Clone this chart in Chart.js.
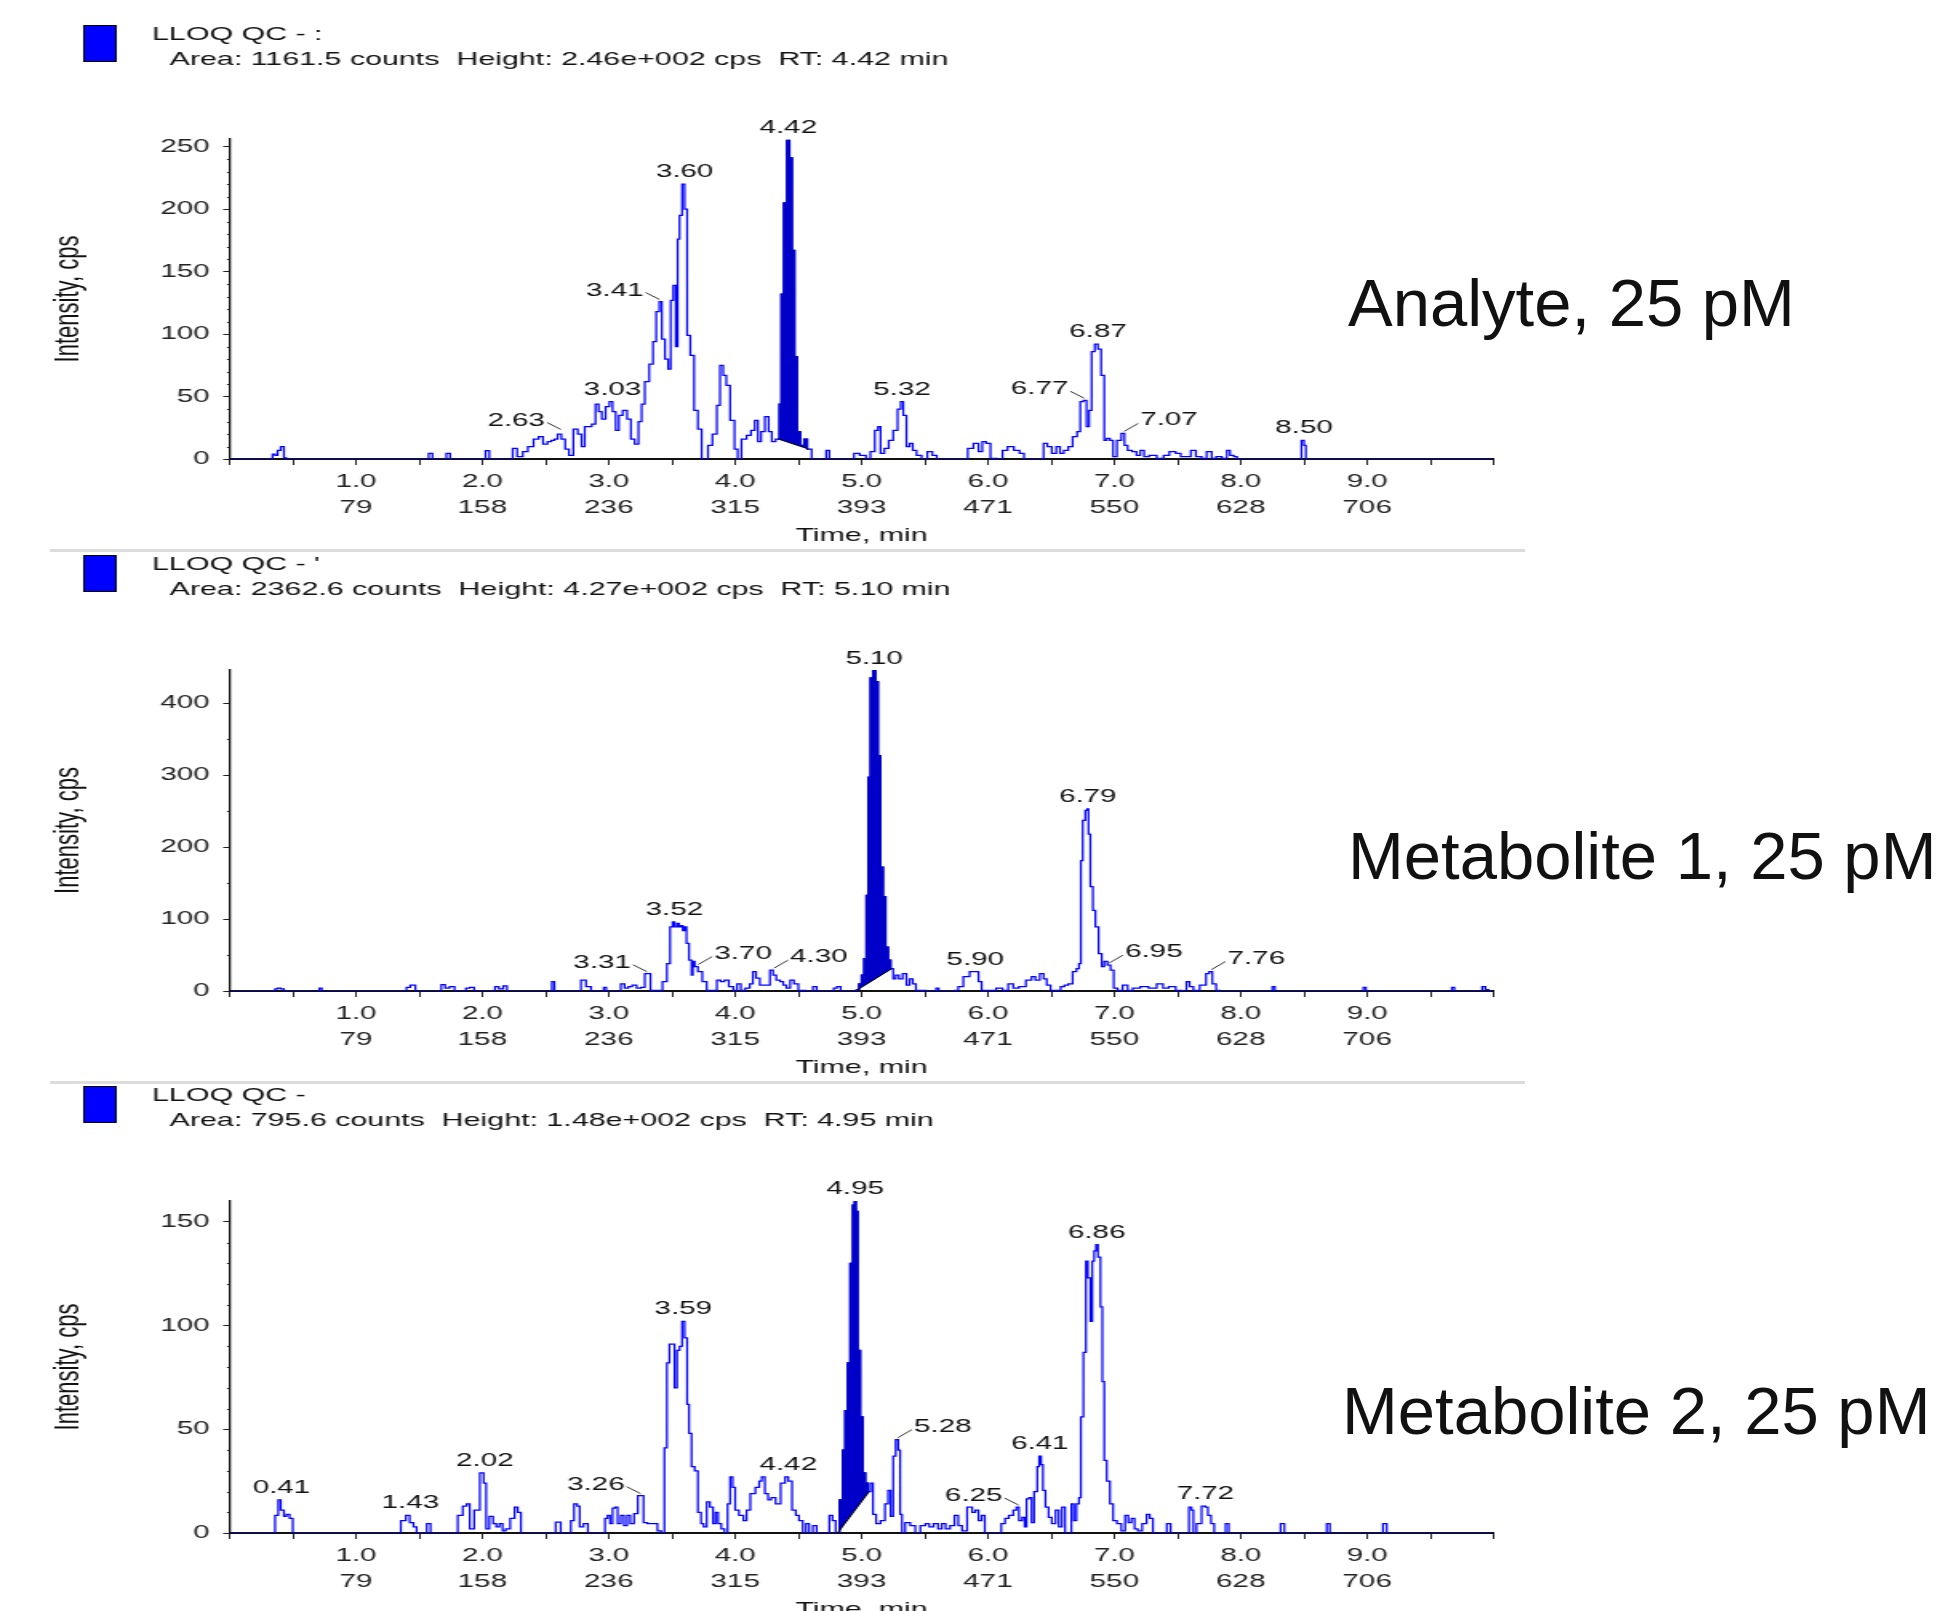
<!DOCTYPE html>
<html>
<head>
<meta charset="utf-8">
<script src="https://cdn.jsdelivr.net/npm/chart.js@4.4.1/dist/chart.umd.min.js"></script>
<style>
  html, body { margin: 0; padding: 0; background: #fff; width: 1952px; height: 1611px; overflow: hidden; }
  #page { position: relative; width: 1952px; height: 1611px; }
  canvas { position: absolute; left: 0; }
  .sep { position: absolute; left: 50px; width: 1475px; height: 3px; background: #dcdcdc; z-index: 2; }
  .name { position: absolute; font-family: "Liberation Sans", Arial, sans-serif; font-size: 67px; line-height: 67px; color: #111; white-space: nowrap; }
</style>
</head>
<body>
<div id="page">
  <div class="sep" style="top:549px"></div>
  <div class="sep" style="top:1081px"></div>
  <div class="name" style="left:1348px;top:269px">Analyte, 25 pM</div>
  <div class="name" style="left:1348px;top:822px">Metabolite 1, 25 pM</div>
  <div class="name" style="left:1342px;top:1377px">Metabolite 2, 25 pM</div>
</div>
<script>
// x axis: second label row (scan number under each minute)
const scanLabels = ['79', '158', '236', '315', '393', '471', '550', '628', '706'];

// header lines of the three XICs
const headTitles = ['LLOQ QC - :', "LLOQ QC - '", 'LLOQ QC -'];
const headArea = [1161.5, 2362.6, 795.6];
const headHeight = ['2.46e+002', '4.27e+002', '1.48e+002'];
const headRT = [4.42, 5.10, 4.95];

// analyte trace [time min, intensity cps]
const analyteTrace = [
  [0,0],[0.33,0],[0.35,4],[0.37,3],[0.39,7],[0.42,10],[0.44,1],[0.46,0],
  [1.56,0],[1.59,4.5],[1.62,0],[1.70,0],[1.73,4.5],[1.76,0],[2.01,0],[2.04,6.7],[2.07,0],
  [2.23,0],[2.25,8.5],[2.30,2],[2.34,6],[2.38,10],[2.43,16],[2.46,18],[2.50,12],[2.53,14],
  [2.56,15],[2.58,16],[2.61,20],[2.64,16],[2.67,8],[2.70,3],[2.74,24],[2.77,20],[2.80,10],
  [2.82,26],[2.85,26],[2.88,28],[2.91,44],[2.93,38],[2.96,32],[2.99,42],[3.02,46],[3.04,38],
  [3.07,23],[3.09,35],[3.13,39],[3.16,32],[3.19,16],[3.22,12],[3.25,30],[3.27,44],[3.30,62],
  [3.34,76],[3.36,94],[3.39,118],[3.41,126],[3.43,96],[3.46,80],[3.48,72],[3.50,127],[3.52,139],
  [3.54,90],[3.55,176],[3.57,195],[3.59,220],[3.61,200],[3.63,99],[3.66,83],[3.69,39],[3.72,24],
  [3.75,0],[3.77,0],[3.80,11],[3.84,20],[3.87,43],[3.89,75],[3.92,67],[3.94,59],[3.98,31],
  [4.01,8],[4.03,0],[4.07,16],[4.11,19],[4.14,23],[4.17,31],[4.19,14],[4.22,22],[4.25,34],
  [4.28,22],[4.30,14],[4.34,16],[4.36,44],[4.37,132],[4.40,205],[4.42,255],[4.44,241],[4.46,167],
  [4.48,82],[4.50,22],[4.53,11],[4.56,16],[4.58,8],[4.63,0],[4.71,0],[4.73,7],[4.76,0],
  [4.93,0],[4.95,4.5],[5.02,3],[5.05,0],[5.09,6],[5.12,23],[5.14,26],[5.16,4.5],[5.20,8.5],
  [5.23,15],[5.27,23],[5.30,40],[5.32,46],[5.34,35],[5.37,10],[5.39,12.5],[5.42,7],[5.45,3],
  [5.50,0],[5.54,6],[5.58,3],[5.61,0],[5.82,0],[5.86,8.5],[5.91,12.5],[5.94,6],[5.97,14],
  [6.00,12.5],[6.04,0.5],[6.10,0],[6.13,7],[6.18,10],[6.23,7],[6.27,4.5],[6.30,0],[6.43,0],
  [6.45,12.5],[6.49,10],[6.52,4.5],[6.56,10],[6.58,4.5],[6.62,7],[6.65,10],[6.69,18],[6.72,22],
  [6.74,46],[6.77,47],[6.79,26],[6.81,39],[6.83,86],[6.86,92],[6.88,88],[6.91,67],[6.93,15],
  [6.95,16.5],[6.98,15],[7.00,2],[7.04,15],[7.07,20.5],[7.09,11],[7.12,7],[7.16,6],[7.19,3],
  [7.22,7],[7.25,2],[7.30,3],[7.37,0.5],[7.41,3],[7.46,6],[7.51,4.5],[7.54,2],[7.59,2],[7.62,7],
  [7.67,2],[7.71,0.5],[7.75,6],[7.79,0.5],[7.82,2],[7.88,0.5],[7.90,7],[7.93,3],[7.96,2],[7.98,0],
  [8.47,0],[8.49,15],[8.51,11],[8.52,0],[10,0]
];
const analyteWindow = [4.34, 4.58];
const analytePeakRT = [2.63, 3.03, 3.41, 3.60, 4.42, 5.32, 6.77, 6.87, 7.07, 8.50];
const analytePeakHeight = [22, 46, 126, 220, 255, 46, 47, 92, 20.5, 15];
const analyteLeader = ['l', '', 'l', '', '', '', 'l', '', 'r', ''];

// metabolite 1 trace
const met1Trace = [
  [0,0],[0.35,0],[0.37,3],[0.39,4],[0.42,3],[0.44,0],[0.70,0],[0.72,4],[0.74,0],
  [1.39,0],[1.41,5],[1.45,8],[1.49,0],[1.66,0],[1.69,9],[1.72,4],[1.76,6],[1.80,0],
  [1.86,0],[1.88,4],[1.92,5],[1.95,0],[2.09,0],[2.11,6],[2.15,3],[2.18,7],[2.21,0],
  [2.54,0],[2.56,13],[2.58,0],[2.76,0],[2.80,15],[2.84,6],[2.88,0],[2.95,0],[2.97,5],[2.99,0],
  [3.08,0],[3.11,10],[3.14,4],[3.17,6],[3.20,8],[3.24,4],[3.27,5],[3.30,24],[3.32,24],[3.34,1],
  [3.40,1],[3.45,13],[3.47,38],[3.50,89],[3.51,96],[3.53,89],[3.55,94],[3.56,89],[3.58,91],
  [3.59,84],[3.61,89],[3.62,66],[3.65,43],[3.66,22],[3.67,41],[3.69,34],[3.72,27],[3.76,13],
  [3.79,1],[3.84,1],[3.87,15],[3.90,13],[3.93,15],[3.97,6],[4.00,1],[4.03,10],[4.06,1],[4.10,4],
  [4.13,10],[4.15,27],[4.18,18],[4.21,8],[4.26,8],[4.29,29],[4.31,22],[4.34,15],[4.37,13],
  [4.39,8],[4.42,4],[4.45,15],[4.48,10],[4.52,1],[4.60,0],[4.63,6],[4.66,0],[4.77,0],[4.79,4],
  [4.82,6],[4.85,0],[4.95,0],[4.97,2],[4.99,10],[5.01,22],[5.03,45],[5.045,133],[5.06,297],
  [5.08,435],[5.10,445],[5.12,430],[5.14,327],[5.16,172],[5.18,131],[5.20,61],[5.22,43],[5.24,31],
  [5.26,17],[5.28,22],[5.31,17],[5.34,24],[5.37,8],[5.39,17],[5.42,10],[5.44,1],[5.58,0],
  [5.60,4],[5.62,0],[5.73,0],[5.75,1],[5.78,6],[5.83,20],[5.88,27],[5.91,27],[5.94,13],[5.96,1],
  [6.04,1],[6.09,4],[6.14,1],[6.18,10],[6.22,4],[6.27,6],[6.33,15],[6.36,20],[6.39,15],[6.43,24],
  [6.45,17],[6.48,8],[6.51,1],[6.56,1],[6.59,6],[6.62,8],[6.65,10],[6.69,27],[6.71,31],[6.73,38],
  [6.74,181],[6.76,237],[6.78,251],[6.79,253],[6.80,218],[6.82,145],[6.84,112],[6.86,89],
  [6.89,52],[6.91,34],[6.93,41],[6.96,36],[6.98,29],[7.01,4],[7.04,1],[7.09,8],[7.12,1],[7.17,4],
  [7.24,6],[7.30,4],[7.37,10],[7.40,4],[7.46,6],[7.51,1],[7.56,0],[7.58,13],[7.61,6],[7.64,1],
  [7.71,8],[7.74,24],[7.76,27],[7.79,10],[7.82,1],[7.85,0],[8.24,0],[8.26,6],[8.28,0],
  [8.96,0],[8.98,5],[9.00,0],[9.66,0],[9.68,5],[9.70,0],[9.90,0],[9.92,6],[9.95,2],[9.97,0],[10,0]
];
const met1Window = [4.97, 5.24];
const met1PeakRT = [3.31, 3.52, 3.70, 4.30, 5.10, 5.90, 6.79, 6.95, 7.76];
const met1PeakHeight = [24, 96, 34, 29, 445, 27, 253, 36, 27];
const met1Leader = ['l', '', 'r', 'r', '', '', '', 'r', 'r'];

// metabolite 2 trace
const met2Trace = [
  [0,0],[0.34,0],[0.38,8.5],[0.39,16],[0.42,11],[0.44,8],[0.46,9],[0.49,7],[0.51,0],
  [1.33,0],[1.38,6],[1.41,8.5],[1.44,5],[1.47,3],[1.49,0],[1.55,0],[1.57,4.5],[1.61,0],
  [1.78,0],[1.83,8.5],[1.86,13],[1.89,14],[1.91,2],[1.96,11],[2.00,29],[2.02,24],[2.04,2],
  [2.07,8],[2.10,4.5],[2.12,3],[2.15,4.5],[2.17,1],[2.20,2],[2.24,7],[2.27,12.5],[2.29,10],[2.32,0],
  [2.56,0],[2.60,5.3],[2.64,0],[2.69,0],[2.71,6],[2.74,14],[2.76,13],[2.78,3],[2.82,4.5],[2.85,0],
  [2.96,0],[2.98,7],[3.00,8.5],[3.02,4.5],[3.04,12],[3.06,12.5],[3.08,4.5],[3.11,8.5],[3.13,3.5],
  [3.16,8.5],[3.18,4.5],[3.22,9.3],[3.24,18],[3.26,18],[3.29,5],[3.32,4.5],[3.37,4.5],[3.40,1],
  [3.43,0],[3.45,41],[3.47,82],[3.49,91],[3.51,91],[3.53,70],[3.55,88],[3.57,90],[3.59,102],
  [3.61,94],[3.63,62],[3.64,48],[3.67,32],[3.69,30],[3.72,10],[3.74,4.5],[3.76,3],[3.79,15],
  [3.81,12.5],[3.84,4.5],[3.85,10],[3.88,4.5],[3.90,2],[3.93,0],[3.95,14],[3.97,27],[3.99,22],
  [4.01,11],[4.05,8.5],[4.08,6],[4.10,11],[4.14,19],[4.18,22],[4.20,25],[4.22,27],[4.25,19],
  [4.27,16],[4.30,17],[4.34,14],[4.38,24],[4.41,27],[4.43,25],[4.47,11],[4.49,8.5],[4.52,6],
  [4.55,0],[4.57,4.5],[4.60,0],[4.63,3.5],[4.66,0],[4.73,0],[4.76,8.5],[4.78,6],[4.81,0],
  [4.84,16],[4.86,40],[4.88,59],[4.90,82],[4.92,130],[4.94,158],[4.95,160],[4.96,155],[4.98,88],
  [5.00,56],[5.02,29],[5.04,24],[5.06,20],[5.08,24],[5.10,9],[5.13,4.5],[5.17,6],[5.20,14],
  [5.22,20.5],[5.24,8],[5.26,37],[5.28,45],[5.30,40],[5.31,9],[5.33,0],[5.36,5],[5.41,3.5],
  [5.44,0],[5.49,3.5],[5.52,4.5],[5.55,3],[5.59,4.5],[5.62,2],[5.65,4.5],[5.68,2],[5.72,3.5],
  [5.75,8.5],[5.78,3.5],[5.81,1],[5.86,12.5],[5.89,10],[5.91,11],[5.94,6],[5.96,8.5],[5.99,0],
  [6.09,0],[6.12,4.5],[6.15,7],[6.18,8.5],[6.22,11],[6.23,12.5],[6.26,6],[6.28,7.5],[6.30,3],
  [6.31,16.5],[6.34,17],[6.35,5],[6.38,20],[6.40,32],[6.41,37],[6.43,33],[6.44,20.5],[6.47,12.5],
  [6.49,7.5],[6.52,4.5],[6.55,11],[6.57,3],[6.60,12.5],[6.62,0],[6.65,0],[6.67,14],[6.69,6],
  [6.71,14],[6.73,17],[6.74,56],[6.77,87],[6.78,131],[6.80,123],[6.82,102],[6.83,131],[6.85,136],
  [6.86,139],[6.88,133],[6.90,109],[6.91,73],[6.93,35],[6.95,25],[6.98,14],[7.00,6],[7.04,4.5],
  [7.07,1],[7.10,8.5],[7.12,5],[7.15,7],[7.17,2],[7.20,1],[7.24,4.5],[7.27,9],[7.29,7],[7.32,0],
  [7.40,0],[7.43,4.5],[7.46,0],[7.58,0],[7.60,12.5],[7.62,11],[7.63,0],[7.67,4.5],[7.71,13],
  [7.73,12.5],[7.75,8.5],[7.78,4.5],[7.80,0],[7.87,0],[7.89,4.5],[7.92,0],[8.30,0],[8.33,4.5],
  [8.36,0],[8.67,0],[8.69,4.5],[8.72,0],[9.11,0],[9.14,4.5],[9.17,0],[10,0]
];
const met2Window = [4.81, 5.06];
const met2PeakRT = [0.41, 1.43, 2.02, 3.26, 3.59, 4.42, 4.95, 5.28, 6.25, 6.41, 6.86, 7.72];
const met2PeakHeight = [16, 8.5, 29, 18, 102, 27, 160, 45, 12.5, 37, 139, 13];
const met2Leader = ['', '', '', 'l', '', '', '', 'r', 'l', '', '', ''];

// the original screenshot is stretched sideways, so each canvas is drawn narrow and widened
const STRETCH = 1.6;
const CANVAS_W = 960;
const FONT = '"Liberation Sans", Arial, sans-serif';
const X_AXIS_H = 88.4;
const PLOT_LEFT = 143.5;
const PLOT_RIGHT = 933.5;

const panels = [
  { trace: analyteTrace, win: analyteWindow, rt: analytePeakRT, h: analytePeakHeight, side: analyteLeader,
    yMax: 256, major: 50, minor: 10, top: 0, height: 550, chartTop: 139, chartBottom: 459, headY: 35 },
  { trace: met1Trace, win: met1Window, rt: met1PeakRT, h: met1PeakHeight, side: met1Leader,
    yMax: 446, major: 100, minor: 50, top: 550, height: 532, chartTop: 120, chartBottom: 441, headY: 15 },
  { trace: met2Trace, win: met2Window, rt: met2PeakRT, h: met2PeakHeight, side: met2Leader,
    yMax: 160, major: 50, minor: 10, top: 1082, height: 545, chartTop: 119, chartBottom: 451, headY: 14 }
];

function buildPanel(p, i) {
  const canvas = document.createElement('canvas');
  canvas.width = CANVAS_W;
  canvas.height = p.height;
  canvas.style.top = p.top + 'px';
  canvas.style.width = (CANVAS_W * STRETCH) + 'px';
  canvas.style.height = p.height + 'px';
  document.getElementById('page').appendChild(canvas);

  const trace = p.trace.map(([t, v]) => ({ x: t, y: v }));
  const peak = trace.filter(pt => pt.x >= p.win[0] - 1e-9 && pt.x <= p.win[1] + 1e-9);
  const baseline = [peak[0], peak[peak.length - 1]];
  const headText = `Area: ${headArea[i].toFixed(1)} counts  Height: ${headHeight[i]} cps  RT: ${headRT[i].toFixed(2)} min`;

  const decorations = {
    id: 'decorations' + i,
    afterDraw(chart) {
      const { ctx, chartArea, scales: { x, y } } = chart;
      ctx.save();
      // minor y ticks
      ctx.strokeStyle = '#222';
      ctx.lineWidth = 1;
      for (let v = p.minor; v < p.yMax; v += p.minor) {
        if (v % p.major === 0) continue;
        const py = Math.round(y.getPixelForValue(v)) + 0.5;
        ctx.beginPath();
        ctx.moveTo(chartArea.left - 1.6, py);
        ctx.lineTo(chartArea.left, py);
        ctx.stroke();
      }
      // header
      ctx.fillStyle = '#0000ff';
      ctx.fillRect(52, p.headY - 10, 21, 37);
      ctx.strokeStyle = '#000';
      ctx.strokeRect(52.5, p.headY - 9.5, 20, 36);
      ctx.font = '19px ' + FONT;
      ctx.fillStyle = '#111';
      ctx.textAlign = 'left';
      ctx.textBaseline = 'middle';
      ctx.fillText(headTitles[i], 95, p.headY);
      ctx.fillText(headText, 106, p.headY + 25);
      // peak labels
      ctx.font = '18.5px ' + FONT;
      ctx.textBaseline = 'alphabetic';
      ctx.strokeStyle = '#333';
      p.rt.forEach((rt, k) => {
        const px = x.getPixelForValue(rt);
        const py = y.getPixelForValue(p.h[k]);
        const label = rt.toFixed(2);
        if (p.side[k] === 'l') {
          ctx.textAlign = 'right';
          ctx.fillText(label, px - 17 / STRETCH, py - 6);
          ctx.beginPath();
          ctx.moveTo(px - 15 / STRETCH, py - 9);
          ctx.lineTo(px - 1 / STRETCH, py - 2);
          ctx.stroke();
        } else if (p.side[k] === 'r') {
          ctx.textAlign = 'left';
          ctx.fillText(label, px + 17 / STRETCH, py - 8);
          ctx.beginPath();
          ctx.moveTo(px + 1 / STRETCH, py - 2);
          ctx.lineTo(px + 15 / STRETCH, py - 10);
          ctx.stroke();
        } else {
          ctx.textAlign = 'center';
          ctx.fillText(label, px, py - 7);
        }
      });
      ctx.restore();
    }
  };

  new Chart(canvas, {
    type: 'line',
    data: {
      datasets: [
        { data: baseline, borderColor: '#000', borderWidth: 1, pointRadius: 0, fill: false },
        { data: peak, borderColor: '#0000c8', backgroundColor: '#0000c8', borderWidth: 1.2, pointRadius: 0, stepped: 'middle', fill: '-1' },
        { data: trace, borderColor: '#0000ff', borderWidth: 1.25, pointRadius: 0, stepped: 'middle', fill: false }
      ]
    },
    options: {
      responsive: false,
      devicePixelRatio: 1,
      animation: false,
      events: [],
      layout: {
        padding: { left: 0, right: CANVAS_W - PLOT_RIGHT, top: p.chartTop, bottom: p.height - p.chartBottom - X_AXIS_H }
      },
      plugins: { legend: { display: false }, tooltip: { enabled: false } },
      scales: {
        x: {
          type: 'linear', min: 0, max: 10,
          grid: { drawOnChartArea: false, tickLength: 6, color: '#222', tickWidth: 1 },
          border: { color: '#111', width: 2 },
          ticks: {
            stepSize: 0.5, autoSkip: false, maxRotation: 0, padding: 4, color: '#222',
            font: { family: FONT, size: 18.5, lineHeight: 1.4 },
            callback: v => {
              const m = Math.round(v * 2) / 2;
              if (Number.isInteger(m) && m >= 1 && m <= 9) return [m.toFixed(1), scanLabels[m - 1]];
              return '';
            }
          },
          title: { display: true, text: 'Time, min', color: '#111', padding: 0, font: { family: FONT, size: 19 } },
          afterFit: s => { s.height = X_AXIS_H; }
        },
        y: {
          type: 'linear', min: 0, max: p.yMax,
          grid: { drawOnChartArea: false, tickLength: 4, color: '#222' },
          border: { color: '#111', width: 1.3 },
          ticks: { stepSize: p.major, includeBounds: false, padding: 8.5, color: '#222', font: { family: FONT, size: 18.5 } },
          title: { display: true, text: 'Intensity, cps', color: '#111', padding: { top: 30, bottom: 0 }, font: { family: FONT, size: 22 } },
          afterFit: s => { s.width = PLOT_LEFT; }
        }
      }
    },
    plugins: [decorations]
  });
}

panels.forEach(buildPanel);
</script>
</body>
</html>
